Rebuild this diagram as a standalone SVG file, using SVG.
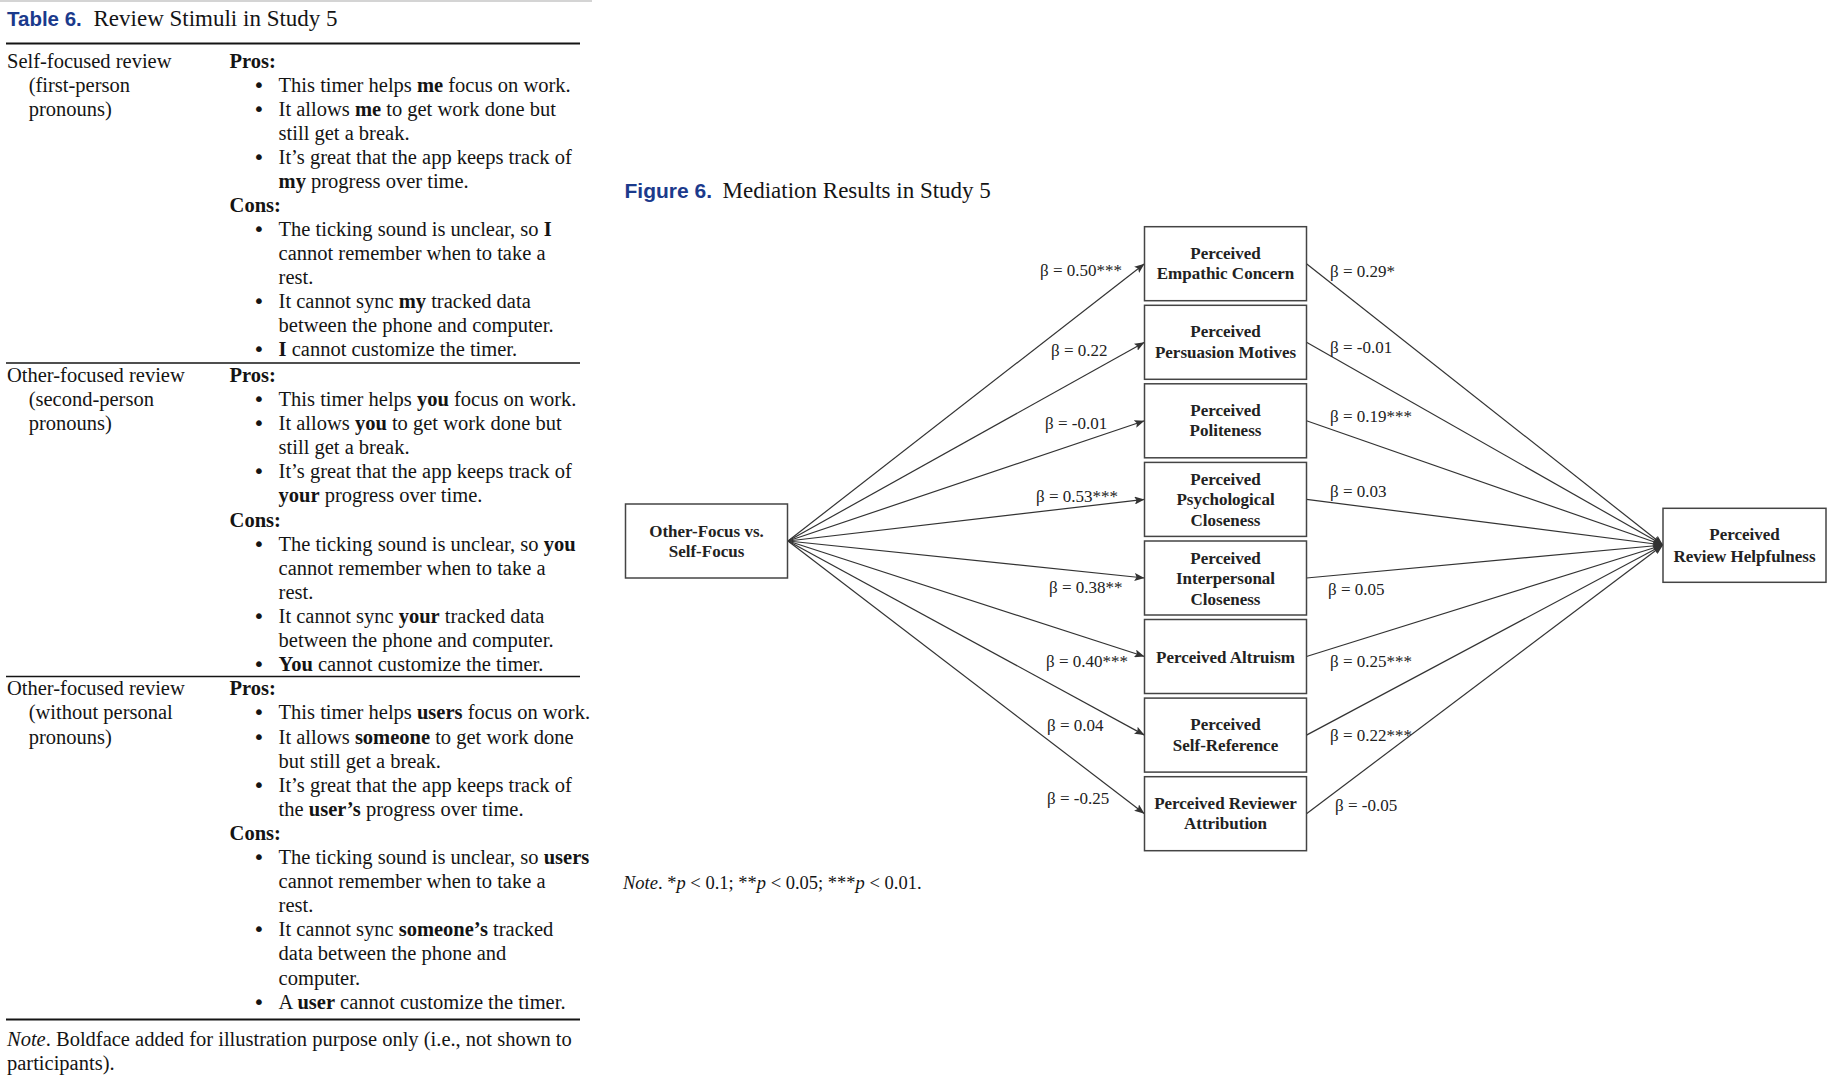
<svg xmlns="http://www.w3.org/2000/svg" width="1840" height="1080" viewBox="0 0 1840 1080">
<defs>
<style>
.tb{font-family:"Liberation Serif","Times New Roman",serif;font-size:20.5px;fill:#141414}
.b{font-weight:bold}
.i{font-style:italic}
.hd{font-family:"Liberation Sans",Arial,sans-serif;font-weight:bold;fill:#1b3a8c;font-size:20.5px}
.ttl{font-family:"Liberation Serif","Times New Roman",serif;font-size:23px;fill:#141414}
.nd{font-family:"Liberation Serif","Times New Roman",serif;font-weight:bold;font-size:17px;fill:#222;text-anchor:middle}
.lbl{font-family:"Liberation Serif","Times New Roman",serif;font-size:17px;fill:#222}
.nt{font-family:"Liberation Serif","Times New Roman",serif;font-size:18.5px;fill:#141414}
.box{fill:#fff;stroke:#444;stroke-width:1.5}
.edge{stroke:#333;stroke-width:1.2;fill:none;marker-end:url(#ah)}
.rule{stroke:#141414;stroke-width:1.6}
.rule2{stroke:#141414;stroke-width:2.2}
.bul{text-anchor:middle;font-family:"DejaVu Sans",sans-serif;font-size:20px;fill:#141414}
</style>
<marker id="ah" viewBox="0 0 10 8" refX="10" refY="4" markerWidth="10" markerHeight="8" markerUnits="userSpaceOnUse" orient="auto">
<path d="M0,0 L10,4 L0,8 L2,4 z" fill="#333"/>
</marker>
</defs>
<rect width="1840" height="1080" fill="#fff"/>
<rect x="0" y="0" width="592" height="2" fill="#d4d4d4"/>

<!-- Table 6 -->
<g id="table6">
<text x="7" y="26" class="hd">Table 6.</text>
<text x="93.5" y="26" class="ttl">Review Stimuli in Study 5</text>
<line x1="6" y1="43.5" x2="580" y2="43.5" class="rule2"/>

<!-- row 1: self-focused -->
<g id="row-self">
<text x="7" y="67.5" class="tb">Self-focused review</text>
<text x="28.7" y="91.55" class="tb">(first-person</text>
<text x="28.7" y="115.6" class="tb">pronouns)</text>
<text x="229.6" y="67.5" class="tb b">Pros:</text>
<text x="259" y="91.55" class="bul">•</text>
<text x="278.6" y="91.55" class="tb">This timer helps <tspan class="b">me</tspan> focus on work.</text>
<text x="259" y="115.6" class="bul">•</text>
<text x="278.6" y="115.6" class="tb">It allows <tspan class="b">me</tspan> to get work done but</text>
<text x="278.6" y="139.65" class="tb">still get a break.</text>
<text x="259" y="163.7" class="bul">•</text>
<text x="278.6" y="163.7" class="tb">It’s great that the app keeps track of</text>
<text x="278.6" y="187.75" class="tb"><tspan class="b">my</tspan> progress over time.</text>
<text x="229.6" y="211.8" class="tb b">Cons:</text>
<text x="259" y="235.85" class="bul">•</text>
<text x="278.6" y="235.85" class="tb">The ticking sound is unclear, so <tspan class="b">I</tspan></text>
<text x="278.6" y="259.9" class="tb">cannot remember when to take a</text>
<text x="278.6" y="283.95" class="tb">rest.</text>
<text x="259" y="308" class="bul">•</text>
<text x="278.6" y="308" class="tb">It cannot sync <tspan class="b">my</tspan> tracked data</text>
<text x="278.6" y="332.05" class="tb">between the phone and computer.</text>
<text x="259" y="356.1" class="bul">•</text>
<text x="278.6" y="356.1" class="tb"><tspan class="b">I</tspan> cannot customize the timer.</text>
</g>
<line x1="6" y1="363" x2="580" y2="363" class="rule"/>

<!-- row 2: second-person -->
<g id="row-second">
<text x="7" y="382" class="tb">Other-focused review</text>
<text x="28.7" y="406.1" class="tb">(second-person</text>
<text x="28.7" y="430.2" class="tb">pronouns)</text>
<text x="229.6" y="382" class="tb b">Pros:</text>
<text x="259" y="406.1" class="bul">•</text>
<text x="278.6" y="406.1" class="tb">This timer helps <tspan class="b">you</tspan> focus on work.</text>
<text x="259" y="430.2" class="bul">•</text>
<text x="278.6" y="430.2" class="tb">It allows <tspan class="b">you</tspan> to get work done but</text>
<text x="278.6" y="454.2" class="tb">still get a break.</text>
<text x="259" y="478.3" class="bul">•</text>
<text x="278.6" y="478.3" class="tb">It’s great that the app keeps track of</text>
<text x="278.6" y="502.4" class="tb"><tspan class="b">your</tspan> progress over time.</text>
<text x="229.6" y="526.5" class="tb b">Cons:</text>
<text x="259" y="550.6" class="bul">•</text>
<text x="278.6" y="550.6" class="tb">The ticking sound is unclear, so <tspan class="b">you</tspan></text>
<text x="278.6" y="574.6" class="tb">cannot remember when to take a</text>
<text x="278.6" y="598.7" class="tb">rest.</text>
<text x="259" y="622.8" class="bul">•</text>
<text x="278.6" y="622.8" class="tb">It cannot sync <tspan class="b">your</tspan> tracked data</text>
<text x="278.6" y="646.9" class="tb">between the phone and computer.</text>
<text x="259" y="671" class="bul">•</text>
<text x="278.6" y="671" class="tb"><tspan class="b">You</tspan> cannot customize the timer.</text>
</g>
<line x1="6" y1="676.5" x2="580" y2="676.5" class="rule"/>

<!-- row 3: without personal pronouns -->
<g id="row-impersonal">
<text x="7" y="695.3" class="tb">Other-focused review</text>
<text x="28.7" y="719.4" class="tb">(without personal</text>
<text x="28.7" y="743.5" class="tb">pronouns)</text>
<text x="229.6" y="695.3" class="tb b">Pros:</text>
<text x="259" y="719.4" class="bul">•</text>
<text x="278.6" y="719.4" class="tb">This timer helps <tspan class="b">users</tspan> focus on work.</text>
<text x="259" y="743.5" class="bul">•</text>
<text x="278.6" y="743.5" class="tb">It allows <tspan class="b">someone</tspan> to get work done</text>
<text x="278.6" y="767.6" class="tb">but still get a break.</text>
<text x="259" y="791.7" class="bul">•</text>
<text x="278.6" y="791.7" class="tb">It’s great that the app keeps track of</text>
<text x="278.6" y="815.8" class="tb">the <tspan class="b">user’s</tspan> progress over time.</text>
<text x="229.6" y="839.9" class="tb b">Cons:</text>
<text x="259" y="864" class="bul">•</text>
<text x="278.6" y="864" class="tb">The ticking sound is unclear, so <tspan class="b">users</tspan></text>
<text x="278.6" y="888.1" class="tb">cannot remember when to take a</text>
<text x="278.6" y="912.2" class="tb">rest.</text>
<text x="259" y="936.3" class="bul">•</text>
<text x="278.6" y="936.3" class="tb">It cannot sync <tspan class="b">someone’s</tspan> tracked</text>
<text x="278.6" y="960.4" class="tb">data between the phone and</text>
<text x="278.6" y="984.5" class="tb">computer.</text>
<text x="259" y="1008.6" class="bul">•</text>
<text x="278.6" y="1008.6" class="tb">A <tspan class="b">user</tspan> cannot customize the timer.</text>
</g>
<line x1="6" y1="1019.5" x2="580" y2="1019.5" class="rule2"/>
<text x="7" y="1045.5" class="tb"><tspan class="i">Note</tspan>. Boldface added for illustration purpose only (i.e., not shown to</text>
<text x="7" y="1069.5" class="tb">participants).</text>
</g>

<!-- Figure 6 -->
<text x="624.5" y="198" class="hd" style="font-size:21px">Figure 6.</text>
<text x="722.5" y="198" class="ttl">Mediation Results in Study 5</text>

<!-- connectors -->
<g id="connectors">
<path class="edge" d="M788,541 L1144.5,263.7"/>
<path class="edge" d="M788,541 L1144.5,342.3"/>
<path class="edge" d="M788,541 L1144.5,420.8"/>
<path class="edge" d="M788,541 L1144.5,499.4"/>
<path class="edge" d="M788,541 L1144.5,578"/>
<path class="edge" d="M788,541 L1144.5,656.5"/>
<path class="edge" d="M788,541 L1144.5,735.1"/>
<path class="edge" d="M788,541 L1144.5,813.7"/>
<path class="edge" d="M1306.5,263.7 L1663,545"/>
<path class="edge" d="M1306.5,342.3 L1663,545"/>
<path class="edge" d="M1306.5,420.8 L1663,545"/>
<path class="edge" d="M1306.5,499.4 L1663,545"/>
<path class="edge" d="M1306.5,578 L1663,545"/>
<path class="edge" d="M1306.5,656.5 L1663,545"/>
<path class="edge" d="M1306.5,735.1 L1663,545"/>
<path class="edge" d="M1306.5,813.7 L1663,545"/>
<text x="1040" y="276" class="lbl">β = 0.50***</text>
<text x="1051" y="355.5" class="lbl">β = 0.22</text>
<text x="1045" y="429" class="lbl">β = -0.01</text>
<text x="1036" y="502" class="lbl">β = 0.53***</text>
<text x="1049" y="592.5" class="lbl">β = 0.38**</text>
<text x="1046" y="666.5" class="lbl">β = 0.40***</text>
<text x="1047" y="730.5" class="lbl">β = 0.04</text>
<text x="1047" y="804" class="lbl">β = -0.25</text>
<text x="1330" y="277" class="lbl">β = 0.29*</text>
<text x="1330" y="353" class="lbl">β = -0.01</text>
<text x="1330" y="422" class="lbl">β = 0.19***</text>
<text x="1330" y="497" class="lbl">β = 0.03</text>
<text x="1328" y="594.5" class="lbl">β = 0.05</text>
<text x="1330" y="667" class="lbl">β = 0.25***</text>
<text x="1330" y="741" class="lbl">β = 0.22***</text>
<text x="1335" y="810.5" class="lbl">β = -0.05</text>
</g>

<!-- nodes -->
<g id="n-focus">
<rect class="box" x="625.5" y="504" width="162" height="74"/>
<text class="nd" x="706.5" y="536.5">Other-Focus vs.</text>
<text class="nd" x="706.5" y="557">Self-Focus</text>
</g>
<g id="n-empathic">
<rect class="box" x="1144.5" y="226.7" width="162" height="74"/>
<text class="nd" x="1225.5" y="258.7">Perceived</text>
<text class="nd" x="1225.5" y="279.2">Empathic Concern</text>
</g>
<g id="n-persuasion">
<rect class="box" x="1144.5" y="305.3" width="162" height="74"/>
<text class="nd" x="1225.5" y="337.3">Perceived</text>
<text class="nd" x="1225.5" y="357.8">Persuasion Motives</text>
</g>
<g id="n-politeness">
<rect class="box" x="1144.5" y="383.8" width="162" height="74"/>
<text class="nd" x="1225.5" y="415.8">Perceived</text>
<text class="nd" x="1225.5" y="436.3">Politeness</text>
</g>
<g id="n-psych">
<rect class="box" x="1144.5" y="462.4" width="162" height="74"/>
<text class="nd" x="1225.5" y="484.9">Perceived</text>
<text class="nd" x="1225.5" y="505.4">Psychological</text>
<text class="nd" x="1225.5" y="525.9">Closeness</text>
</g>
<g id="n-interpersonal">
<rect class="box" x="1144.5" y="541" width="162" height="74"/>
<text class="nd" x="1225.5" y="563.5">Perceived</text>
<text class="nd" x="1225.5" y="584">Interpersonal</text>
<text class="nd" x="1225.5" y="604.5">Closeness</text>
</g>
<g id="n-altruism">
<rect class="box" x="1144.5" y="619.5" width="162" height="74"/>
<text class="nd" x="1225.5" y="662.5">Perceived Altruism</text>
</g>
<g id="n-selfref">
<rect class="box" x="1144.5" y="698.1" width="162" height="74"/>
<text class="nd" x="1225.5" y="730.1">Perceived</text>
<text class="nd" x="1225.5" y="750.6">Self-Reference</text>
</g>
<g id="n-attribution">
<rect class="box" x="1144.5" y="776.7" width="162" height="74"/>
<text class="nd" x="1225.5" y="808.7">Perceived Reviewer</text>
<text class="nd" x="1225.5" y="829.2">Attribution</text>
</g>
<g id="n-helpfulness">
<rect class="box" x="1663" y="508.3" width="163" height="74"/>
<text class="nd" x="1744.5" y="539.5">Perceived</text>
<text class="nd" x="1744.5" y="561.5">Review Helpfulness</text>
</g>

<text x="623" y="889.3" class="nt"><tspan class="i">Note</tspan>. *<tspan class="i">p</tspan> &lt; 0.1; **<tspan class="i">p</tspan> &lt; 0.05; ***<tspan class="i">p</tspan> &lt; 0.01.</text>
</svg>
